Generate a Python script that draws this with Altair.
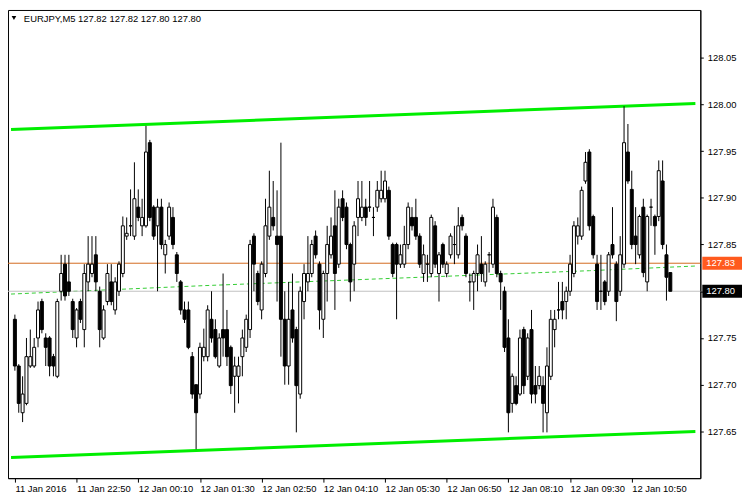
import altair as alt
import pandas as pd

title_text = "EURJPY,M5  127.82 127.82 127.80 127.80"

opens = [127.770, 127.720, 127.670, 127.680, 127.720, 127.720, 127.750, 127.789, 127.750, 127.750,
         127.730, 127.709, 127.800, 127.829, 127.810, 127.789, 127.750, 127.789, 127.759, 127.810,
         127.819, 127.839, 127.800, 127.750, 127.789, 127.810, 127.780, 127.800, 127.819, 127.859,
         127.870, 127.859, 127.890, 127.870, 127.870, 127.959, 127.890, 127.870, 127.890, 127.839,
         127.859, 127.879, 127.839, 127.810, 127.780, 127.780, 127.730, 127.700, 127.690, 127.730,
         127.730, 127.770, 127.759, 127.720, 127.759, 127.759, 127.740, 127.709, 127.709, 127.730,
         127.740, 127.759, 127.859, 127.819, 127.780, 127.819, 127.859, 127.879, 127.859, 127.859,
         127.770, 127.720, 127.780, 127.759, 127.690, 127.789, 127.810, 127.819, 127.859, 127.829,
         127.770, 127.819, 127.839, 127.870, 127.829, 127.899, 127.890, 127.850, 127.829, 127.879,
         127.879, 127.890, 127.890, 127.879, 127.890, 127.899, 127.899, 127.908, 127.850, 127.850,
         127.829, 127.829, 127.850, 127.879, 127.879, 127.859, 127.819, 127.829, 127.819, 127.870,
         127.819, 127.850, 127.819, 127.839, 127.850, 127.839, 127.879, 127.859, 127.810, 127.810,
         127.819, 127.829, 127.810, 127.839, 127.829, 127.879, 127.819, 127.800, 127.750, 127.680,
         127.699, 127.690, 127.759, 127.709, 127.759, 127.699, 127.699, 127.699, 127.670, 127.709,
         127.759, 127.780, 127.789, 127.789, 127.800, 127.819, 127.859, 127.859, 127.918, 127.949,
         127.880, 127.829, 127.800, 127.810, 127.800, 127.850, 127.829, 127.800, 127.829, 127.949,
         127.909, 127.859, 127.839, 127.890, 127.810, 127.890, 127.880, 127.880, 127.918, 127.839,
         127.820]
highs = [127.775, 127.722, 127.709, 127.750, 127.759, 127.750, 127.789, 127.792, 127.755, 127.752,
         127.733, 127.792, 127.839, 127.839, 127.839, 127.792, 127.782, 127.792, 127.829, 127.859,
         127.859, 127.859, 127.805, 127.785, 127.829, 127.829, 127.815, 127.832, 127.880, 127.879,
         127.909, 127.938, 127.909, 127.899, 127.977, 127.962, 127.892, 127.899, 127.899, 127.855,
         127.895, 127.890, 127.842, 127.812, 127.789, 127.789, 127.735, 127.700, 127.745, 127.760,
         127.785, 127.800, 127.770, 127.755, 127.819, 127.780, 127.742, 127.730, 127.730, 127.759,
         127.775, 127.855, 127.862, 127.822, 127.832, 127.899, 127.929, 127.918, 127.908, 127.959,
         127.800, 127.810, 127.819, 127.762, 127.805, 127.829, 127.859, 127.855, 127.865, 127.832,
         127.822, 127.870, 127.879, 127.908, 127.899, 127.908, 127.895, 127.852, 127.875, 127.918,
         127.918, 127.899, 127.918, 127.890, 127.918, 127.929, 127.929, 127.912, 127.852, 127.852,
         127.850, 127.870, 127.895, 127.890, 127.899, 127.862, 127.850, 127.839, 127.882, 127.875,
         127.842, 127.852, 127.832, 127.862, 127.870, 127.890, 127.882, 127.862, 127.819, 127.822,
         127.850, 127.859, 127.832, 127.842, 127.899, 127.882, 127.822, 127.805, 127.770, 127.712,
         127.709, 127.759, 127.762, 127.755, 127.780, 127.720, 127.720, 127.709, 127.740, 127.780,
         127.780, 127.810, 127.810, 127.805, 127.839, 127.875, 127.879, 127.912, 127.949, 127.952,
         127.882, 127.839, 127.839, 127.812, 127.842, 127.890, 127.832, 127.859, 127.998, 127.979,
         127.929, 127.890, 127.882, 127.899, 127.882, 127.899, 127.882, 127.940, 127.940, 127.850,
         127.820]
lows = [127.715, 127.670, 127.660, 127.678, 127.718, 127.718, 127.740, 127.755, 127.720, 127.709,
        127.709, 127.707, 127.790, 127.790, 127.795, 127.750, 127.740, 127.766, 127.740, 127.800,
        127.815, 127.800, 127.740, 127.748, 127.785, 127.785, 127.775, 127.795, 127.815, 127.855,
        127.859, 127.855, 127.875, 127.859, 127.868, 127.875, 127.855, 127.800, 127.845, 127.819,
        127.855, 127.845, 127.810, 127.775, 127.766, 127.738, 127.685, 127.631, 127.685, 127.725,
        127.725, 127.745, 127.728, 127.718, 127.730, 127.720, 127.690, 127.670, 127.680, 127.709,
        127.735, 127.750, 127.800, 127.785, 127.770, 127.815, 127.855, 127.865, 127.789, 127.730,
        127.700, 127.700, 127.745, 127.649, 127.685, 127.770, 127.800, 127.815, 127.835, 127.759,
        127.750, 127.789, 127.835, 127.780, 127.825, 127.875, 127.845, 127.789, 127.800, 127.859,
        127.875, 127.870, 127.885, 127.859, 127.885, 127.895, 127.895, 127.855, 127.815, 127.770,
        127.825, 127.825, 127.845, 127.865, 127.855, 127.825, 127.810, 127.810, 127.815, 127.825,
        127.789, 127.825, 127.815, 127.835, 127.829, 127.835, 127.865, 127.815, 127.789, 127.780,
        127.800, 127.810, 127.805, 127.820, 127.825, 127.815, 127.780, 127.735, 127.649, 127.670,
        127.678, 127.688, 127.690, 127.705, 127.680, 127.680, 127.695, 127.649, 127.649, 127.705,
        127.740, 127.770, 127.770, 127.770, 127.795, 127.815, 127.850, 127.855, 127.915, 127.865,
        127.835, 127.780, 127.780, 127.785, 127.795, 127.835, 127.768, 127.795, 127.825, 127.915,
        127.845, 127.829, 127.835, 127.815, 127.800, 127.870, 127.839, 127.875, 127.845, 127.790,
        127.800]
closes = [127.720, 127.680, 127.690, 127.730, 127.730, 127.740, 127.780, 127.759, 127.740, 127.720,
          127.720, 127.789, 127.819, 127.795, 127.800, 127.759, 127.780, 127.770, 127.819, 127.829,
          127.829, 127.810, 127.759, 127.780, 127.819, 127.789, 127.810, 127.829, 127.870, 127.862,
          127.870, 127.899, 127.879, 127.879, 127.949, 127.879, 127.859, 127.890, 127.850, 127.850,
          127.890, 127.850, 127.819, 127.780, 127.770, 127.740, 127.690, 127.670, 127.740, 127.740,
          127.780, 127.750, 127.730, 127.750, 127.750, 127.730, 127.699, 127.720, 127.720, 127.750,
          127.770, 127.850, 127.829, 127.789, 127.829, 127.870, 127.890, 127.870, 127.850, 127.770,
          127.720, 127.770, 127.750, 127.699, 127.800, 127.819, 127.819, 127.850, 127.839, 127.780,
          127.819, 127.850, 127.859, 127.819, 127.890, 127.879, 127.850, 127.810, 127.870, 127.899,
          127.890, 127.879, 127.890, 127.879, 127.908, 127.908, 127.918, 127.859, 127.819, 127.829,
          127.839, 127.850, 127.890, 127.870, 127.859, 127.829, 127.839, 127.829, 127.879, 127.829,
          127.839, 127.829, 127.829, 127.859, 127.850, 127.870, 127.870, 127.819, 127.810, 127.819,
          127.839, 127.819, 127.829, 127.839, 127.890, 127.819, 127.810, 127.740, 127.670, 127.709,
          127.680, 127.750, 127.699, 127.750, 127.690, 127.690, 127.709, 127.680, 127.720, 127.770,
          127.770, 127.780, 127.780, 127.800, 127.829, 127.870, 127.870, 127.908, 127.938, 127.870,
          127.839, 127.789, 127.800, 127.789, 127.839, 127.839, 127.789, 127.839, 127.959, 127.918,
          127.850, 127.850, 127.880, 127.820, 127.880, 127.890, 127.870, 127.929, 127.850, 127.815,
          127.800]

x_tick_idx = [0, 16, 32, 48, 64, 80, 96, 112, 128, 144, 160]
x_labels = ["11 Jan 2016", "11 Jan 22:50", "12 Jan 00:10", "12 Jan 01:30", "12 Jan 02:50",
            "12 Jan 04:10", "12 Jan 05:30", "12 Jan 06:50", "12 Jan 08:10", "12 Jan 09:30",
            "12 Jan 10:50"]
y_ticks = [127.65, 127.70, 127.75, 127.80, 127.85, 127.90, 127.95, 128.00, 128.05]

channel_x = [-1.0, 176.5]
upper_channel = [127.973, 128.001]
lower_channel = [127.622, 127.650]

ma_x = [-1.0, 49, 99, 149, 176.5]
ma_vals = [127.797, 127.806, 127.814, 127.822, 127.827]

tag_prices = [127.83, 127.80]
tag_labels = ["127.83", "127.80"]
tag_colors = ["#ff5a1e", "#000000"]
line_colors = ["#d2691e", "#c0c0c0"]

FONT = "Liberation Sans"
W, H = 698, 472

df = pd.DataFrame({"i": list(range(len(opens))), "open": opens, "high": highs,
                   "low": lows, "close": closes})
ch_df = pd.DataFrame({"i": channel_x + channel_x,
                      "v": upper_channel + lower_channel,
                      "g": ["u", "u", "l", "l"]})
ma_df = pd.DataFrame({"i": ma_x, "v": ma_vals})
tag_df = pd.DataFrame({"p": tag_prices, "label": tag_labels, "bg": tag_colors,
                       "lc": line_colors})
title_df = pd.DataFrame({"t": [title_text]})

xscale = alt.Scale(domain=[-0.5, 176.5], nice=False, zero=False)
yscale = alt.Scale(domain=[127.600, 128.101], nice=False, zero=False)

label_arr = "[" + ",".join("'" + s + "'" for s in x_labels) + "]"
xaxis = alt.Axis(values=x_tick_idx, labelExpr=label_arr + "[round(datum.value/16)]",
                 tickSize=4, labelAlign="left", labelPadding=1,
                 labelFlush=False, labelOverlap=False, grid=False, title=None,
                 labelBaseline="top")
yaxis = alt.Axis(orient="right", values=y_ticks, format=".2f", tickSize=3,
                 labelPadding=4, grid=False, title=None, labelOverlap=False,
                 labelFlush=False)


def X(field="i"):
    return alt.X(field + ":Q", scale=xscale, axis=xaxis, title=None)


def Y(field):
    return alt.Y(field + ":Q", scale=yscale, axis=yaxis, title=None)


channels = alt.Chart(ch_df).mark_line(color="#00ee00", strokeWidth=3, clip=True).encode(
    x=X(), y=Y("v"), detail="g:N")

ma = alt.Chart(ma_df).mark_line(color="#33cc33", strokeWidth=1, strokeDash=[4, 3], clip=True).encode(
    x=X(), y=Y("v"))

hlines = alt.Chart(tag_df).mark_rule(strokeWidth=1).encode(
    y=Y("p"), color=alt.Color("lc:N", scale=None))

wicks = alt.Chart(df).mark_rule(color="black", strokeWidth=1).encode(
    x=X(), y=Y("low"), y2="high:Q")

bodies = alt.Chart(df).mark_bar(size=3, stroke="black", strokeWidth=1).encode(
    x=X(), y=Y("open"), y2="close:Q",
    fill=alt.condition("datum.close >= datum.open", alt.value("white"), alt.value("black")))

box_path = "M-1,-0.33L1,-0.33L1,0.33L-1,0.33Z"
tag_boxes = alt.Chart(tag_df).mark_point(shape=box_path, filled=True, opacity=1,
                                         size=40 * 40, strokeWidth=0).encode(
    x=alt.value(W + 22), y=Y("p"), color=alt.Color("bg:N", scale=None))

tag_text = alt.Chart(tag_df).mark_text(align="left", baseline="middle", color="white",
                                       font=FONT, fontSize=9.5).encode(
    x=alt.value(W + 6), y=Y("p"), text="label:N")

title_mark = alt.Chart(title_df).mark_text(align="left", baseline="alphabetic", color="black",
                                           font=FONT, fontSize=9.5).encode(
    x=alt.value(16), y=alt.value(12), text="t:N")

tri = alt.Chart(title_df).mark_point(shape="triangle-down", filled=True, color="black",
                                     size=22, opacity=1).encode(
    x=alt.value(6), y=alt.value(8))

chart = alt.layer(
    channels, ma, hlines, wicks, bodies, tag_boxes, tag_text, title_mark, tri
).properties(
    width=W, height=H,
    padding={"left": 0, "top": 0, "right": 42, "bottom": 16},
    autosize=alt.AutoSizeParams(type="none"),
    background="white"
).configure_view(
    stroke="black", strokeWidth=1
).configure_axis(
    labelFont=FONT, labelFontSize=9.5, labelColor="black",
    domainColor="black", tickColor="black", domainWidth=1, tickWidth=1
)

chart.save("out.html", embed_options={"renderer": "svg", "actions": False})
